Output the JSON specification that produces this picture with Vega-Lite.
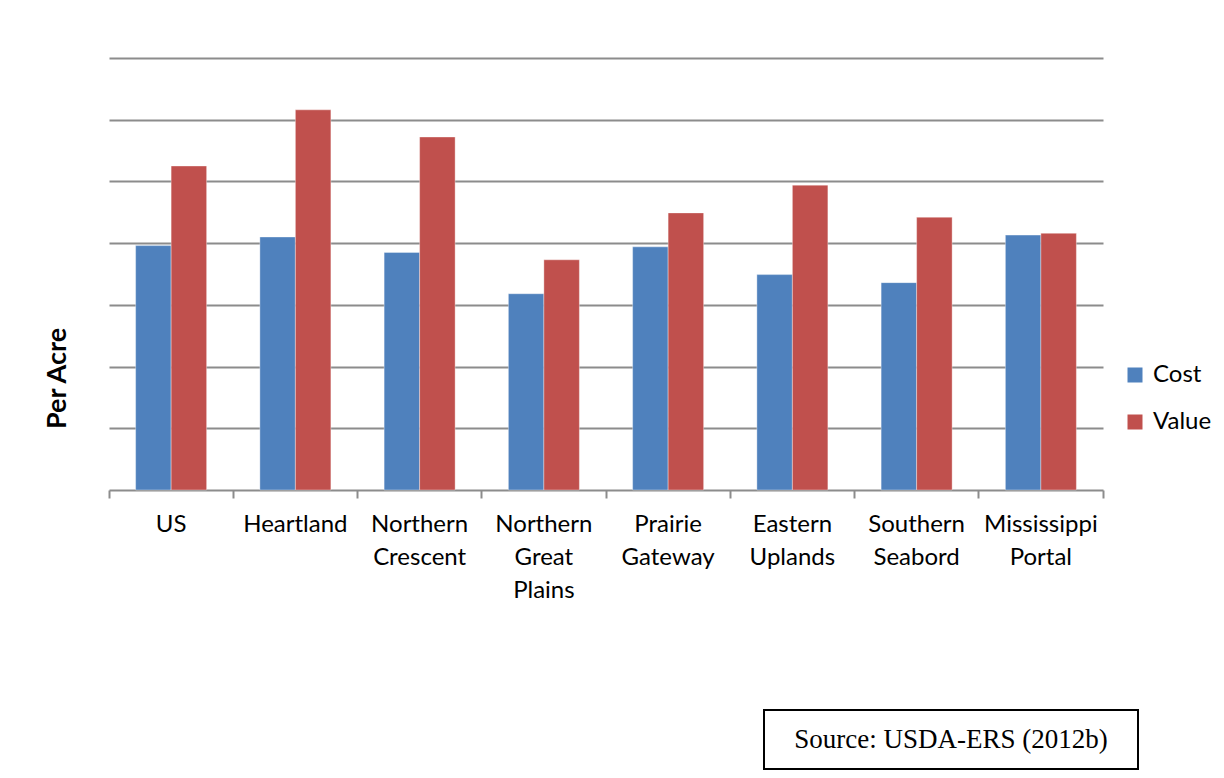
{
  "$schema": "https://vega.github.io/schema/vega-lite/v6.json",
  "padding": {"left": 43, "top": 58, "right": 0, "bottom": 0},
  "background": "white",
  "spacing": 107,
  "resolve": {"legend": {"color": "independent"}, "scale": {"color": "independent"}},
  "config": {"font": "Lato"},
  "vconcat": [
    {
      "width": 994,
      "height": 432,
      "view": {"stroke": null},
      "data": {
        "values": [
          {"region": "US", "series": "Cost", "amount": 396},
          {"region": "US", "series": "Value", "amount": 525},
          {"region": "Heartland", "series": "Cost", "amount": 410},
          {"region": "Heartland", "series": "Value", "amount": 616},
          {"region": "Northern Crescent", "series": "Cost", "amount": 385},
          {"region": "Northern Crescent", "series": "Value", "amount": 572},
          {"region": "Northern Great Plains", "series": "Cost", "amount": 318},
          {"region": "Northern Great Plains", "series": "Value", "amount": 373},
          {"region": "Prairie Gateway", "series": "Cost", "amount": 394},
          {"region": "Prairie Gateway", "series": "Value", "amount": 449},
          {"region": "Eastern Uplands", "series": "Cost", "amount": 349},
          {"region": "Eastern Uplands", "series": "Value", "amount": 494},
          {"region": "Southern Seabord", "series": "Cost", "amount": 336},
          {"region": "Southern Seabord", "series": "Value", "amount": 442},
          {"region": "Mississippi Portal", "series": "Cost", "amount": 413},
          {"region": "Mississippi Portal", "series": "Value", "amount": 416}
        ]
      },
      "mark": {"type": "bar", "stroke": "white", "strokeWidth": 0.6, "strokeOpacity": 0.6},
      "encoding": {
        "x": {
          "field": "region",
          "type": "nominal",
          "sort": null,
          "scale": {"paddingInner": 0, "paddingOuter": 0},
          "axis": {
            "title": null,
            "labelAngle": 0,
            "labelExpr": "split(datum.label, ' ')",
            "labelFontSize": 24,
            "labelFont": "Lato",
            "labelColor": "#000000",
            "labelLineHeight": 33,
            "labelPadding": 14,
            "labelLimit": 200,
            "bandPosition": 1,
            "tickExtra": true,
            "tickSize": 8,
            "tickWidth": 2,
            "tickColor": "#8c8c8c",
            "domainColor": "#8c8c8c",
            "domainWidth": 2,
            "grid": false
          }
        },
        "xOffset": {
          "field": "series",
          "type": "nominal",
          "scale": {"paddingInner": 0, "paddingOuter": 0.75}
        },
        "y": {
          "field": "amount",
          "type": "quantitative",
          "scale": {"domain": [0, 700], "nice": false},
          "axis": {
            "title": "Per Acre",
            "titleFont": "Lato",
            "titleFontSize": 27,
            "titleFontWeight": "bold",
            "titleColor": "#000000",
            "titlePadding": 38,
            "titleY": 320,
            "labels": false,
            "ticks": false,
            "domain": false,
            "values": [100, 200, 300, 400, 500, 600, 700],
            "grid": true,
            "gridColor": "#8c8c8c",
            "gridWidth": 2
          }
        },
        "color": {
          "field": "series",
          "type": "nominal",
          "scale": {"domain": ["Cost", "Value"], "range": ["#4F81BD", "#C0504D"]},
          "legend": {
            "title": null,
            "orient": "none",
            "legendX": 1014,
            "legendY": 305,
            "padding": 0,
            "symbolType": "square",
            "symbolSize": 225,
            "symbolStrokeWidth": 0,
            "labelFontSize": 24,
            "labelFont": "Lato",
            "labelColor": "#000000",
            "labelOffset": 6,
            "rowPadding": 23
          }
        }
      }
    },
    {
      "spacing": 0,
      "hconcat": [
        {
          "width": 654,
          "height": 59,
          "view": {"stroke": null},
          "data": {"values": [{"t": ""}]},
          "mark": {"type": "text"},
          "encoding": {"text": {"field": "t"}}
        },
        {
          "width": 374,
          "height": 59,
          "view": {"stroke": "#000000", "strokeWidth": 2},
          "data": {"values": [{"note": "Source: USDA-ERS (2012b)"}]},
          "mark": {"type": "text", "font": "Liberation Serif", "fontSize": 27, "color": "#000000"},
          "encoding": {"text": {"field": "note"}}
        }
      ]
    }
  ]
}
